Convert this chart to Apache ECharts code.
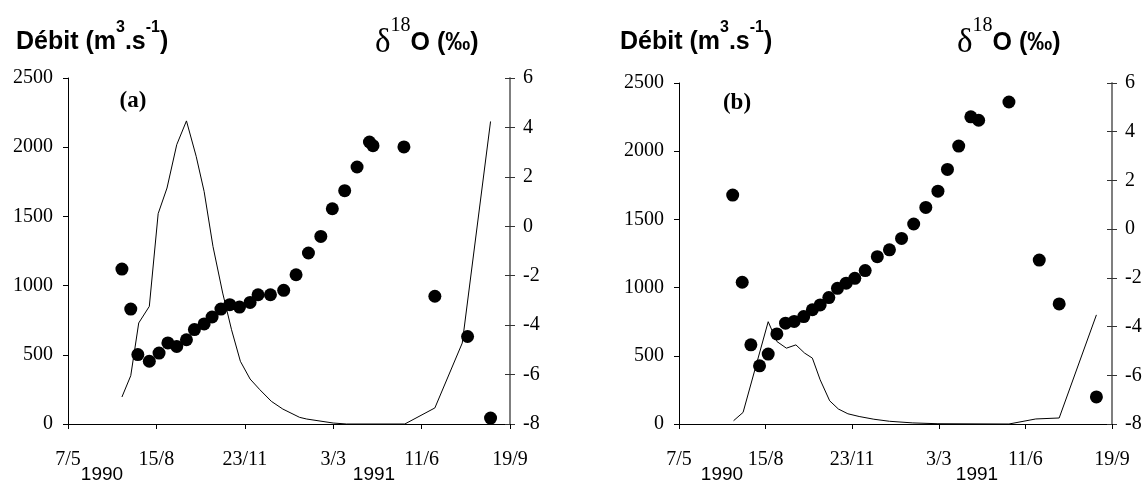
<!DOCTYPE html>
<html><head><meta charset="utf-8">
<script src="https://cdn.jsdelivr.net/npm/echarts@6/dist/echarts.min.js"></script>
<style>html,body{margin:0;padding:0;background:#fff}#c{width:1147px;height:483px}</style>
</head><body><div id="c"></div>
<script>
// ---- data ----
const startDate = '1990-05-07';
const xTickLabels = ['7/5', '15/8', '23/11', '3/3', '11/6', '19/9'];
const yearLabels = ['1990', '1991'];
const flowTicks = [0, 500, 1000, 1500, 2000, 2500];
const isoTicks = [-8, -6, -4, -2, 0, 2, 4, 6];

const aFlowDates = ['1990-07-07','1990-07-17','1990-07-26','1990-08-07','1990-08-17','1990-08-27','1990-09-07','1990-09-18','1990-09-29','1990-10-08','1990-10-18','1990-10-29','1990-11-08','1990-11-18','1990-11-29','1990-12-10','1990-12-23','1991-01-05','1991-01-24','1991-02-01','1991-03-03','1991-03-18','1991-05-23','1991-06-26','1991-07-27','1991-08-28'];
const aFlowValues = [195,349,730,850,1520,1705,2018,2190,1934,1680,1283,946,681,453,325,248,164,108,48,36,7,0,0,116,585,2186];

const aIsoDates = ['1990-07-07','1990-07-17','1990-07-25','1990-08-07','1990-08-18','1990-08-28','1990-09-07','1990-09-18','1990-09-27','1990-10-08','1990-10-17','1990-10-27','1990-11-06','1990-11-17','1990-11-29','1990-12-08','1990-12-22','1991-01-06','1991-01-20','1991-02-03','1991-02-17','1991-03-02','1991-03-16','1991-03-30','1991-04-13','1991-04-17','1991-05-22','1991-06-26','1991-08-02','1991-08-28'];
const aIsoValues = [-1.73,-3.35,-5.19,-5.46,-5.13,-4.72,-4.86,-4.59,-4.18,-3.95,-3.67,-3.35,-3.17,-3.27,-3.08,-2.77,-2.77,-2.59,-1.96,-1.08,-0.41,0.71,1.44,2.40,3.41,3.26,3.21,-2.83,-4.46,-7.76];

const bFlowDates = ['1990-07-09','1990-07-20','1990-08-18','1990-08-28','1990-09-08','1990-09-19','1990-09-29','1990-10-08','1990-10-17','1990-10-28','1990-11-07','1990-11-18','1990-12-01','1990-12-18','1991-01-05','1991-02-01','1991-03-02','1991-05-23','1991-06-23','1991-07-20','1991-09-01'];
const bFlowValues = [24,85,750,605,556,580,520,483,324,170,110,75,55,35,20,8,2,0,37,44,800];

const bIsoDates = ['1990-07-08','1990-07-19','1990-07-29','1990-08-08','1990-08-18','1990-08-28','1990-09-07','1990-09-17','1990-09-28','1990-10-08','1990-10-17','1990-10-27','1990-11-06','1990-11-16','1990-11-26','1990-12-08','1990-12-22','1991-01-05','1991-01-19','1991-02-02','1991-02-16','1991-03-02','1991-03-13','1991-03-26','1991-04-09','1991-04-18','1991-05-23','1991-06-27','1991-07-20','1991-09-01'];
const bIsoValues = [1.40,-2.18,-4.75,-5.61,-5.13,-4.30,-3.86,-3.79,-3.59,-3.31,-3.11,-2.81,-2.43,-2.22,-2.02,-1.70,-1.13,-0.85,-0.38,0.21,0.89,1.56,2.45,3.41,4.61,4.47,5.22,-1.27,-3.07,-6.89];

// ---- helpers ----
const DAY = 86400000;
const dayOf = s => (Date.parse(s) - Date.parse(startDate)) / DAY;
const pairs = (d, v) => d.map((s, i) => [dayOf(s), v[i]]);

const SERIF = '"Liberation Serif","Times New Roman",serif';
const SANS = '"Liberation Sans",Arial,sans-serif';
const TICK_FS = 20;

function xAxisFor(gi) {
  return {
    type: 'value', gridIndex: gi, min: 0, max: 500, interval: 100,
    axisLine: { show: true, onZero: false, lineStyle: { color: '#000', width: 1 } },
    axisTick: { show: true, inside: false, length: 5, lineStyle: { color: '#000' } },
    splitLine: { show: false },
    axisLabel: { margin: 26, color: '#000', fontFamily: SERIF, fontSize: TICK_FS,
      formatter: v => xTickLabels[Math.round(v / 100)] }
  };
}
function yAxesFor(gi) {
  return [
    { type: 'value', gridIndex: gi, position: 'left', min: flowTicks[0], max: flowTicks[flowTicks.length - 1], interval: 500,
      axisLine: { show: true, lineStyle: { color: '#000', width: 1 } },
      axisTick: { show: true, inside: false, length: 5, lineStyle: { color: '#000' } },
      splitLine: { show: false },
      axisLabel: { margin: 15, color: '#000', fontFamily: SERIF, fontSize: TICK_FS, formatter: v => String(v) } },
    { type: 'value', gridIndex: gi, position: 'right', min: isoTicks[0], max: isoTicks[isoTicks.length - 1], interval: 2,
      axisLine: { show: true, lineStyle: { color: '#777', width: 1.5 } },
      axisTick: { show: true, inside: false, length: 5, lineStyle: { color: '#333' } },
      splitLine: { show: false },
      axisLabel: { margin: 13, color: '#000', fontFamily: SERIF, fontSize: TICK_FS, formatter: v => String(v) } },
    { type: 'value', gridIndex: gi, position: 'right', min: isoTicks[0], max: isoTicks[isoTicks.length - 1], interval: 2,
      axisLine: { show: true, lineStyle: { color: '#777', width: 1.5 } },
      axisTick: { show: true, inside: true, length: 5, lineStyle: { color: '#333' } },
      splitLine: { show: false },
      axisLabel: { show: false } }
  ];
}

const titleRichDebit = {
  m: { fontFamily: SANS, fontWeight: 'bold', fontSize: 25, lineHeight: 45, color: '#000' },
  s: { fontFamily: SANS, fontWeight: 'bold', fontSize: 16, lineHeight: 16, verticalAlign: 'top', color: '#000' }
};
const titleRichIso = {
  d: { fontFamily: SERIF, fontSize: 33, lineHeight: 54, color: '#000' },
  t: { fontFamily: SERIF, fontSize: 20, lineHeight: 20, verticalAlign: 'top', color: '#000' },
  o: { fontFamily: SANS, fontWeight: 'bold', fontSize: 25, lineHeight: 54, color: '#000' }
};
function txt(x, y, text, style) {
  return { type: 'text', x: x, y: y, style: Object.assign({ text: text, fill: '#000' }, style) };
}

const option = {
  animation: false,
  backgroundColor: '#fff',
  grid: [
    { left: 68, right: 637, top: 78, bottom: 59 },
    { left: 679, right: 35, top: 83, bottom: 59 }
  ],
  xAxis: [xAxisFor(0), xAxisFor(1)],
  yAxis: yAxesFor(0).concat(yAxesFor(1)),
  series: [
    { type: 'line', xAxisIndex: 0, yAxisIndex: 0, data: pairs(aFlowDates, aFlowValues), showSymbol: false, symbol: 'none',
      lineStyle: { color: '#000', width: 1 }, z: 2 },
    { type: 'scatter', xAxisIndex: 0, yAxisIndex: 1, data: pairs(aIsoDates, aIsoValues), symbol: 'circle', symbolSize: 13,
      itemStyle: { color: '#000', opacity: 1 }, z: 3 },
    { type: 'line', xAxisIndex: 1, yAxisIndex: 3, data: pairs(bFlowDates, bFlowValues), showSymbol: false, symbol: 'none',
      lineStyle: { color: '#000', width: 1 }, z: 2 },
    { type: 'scatter', xAxisIndex: 1, yAxisIndex: 4, data: pairs(bIsoDates, bIsoValues), symbol: 'circle', symbolSize: 13,
      itemStyle: { color: '#000', opacity: 1 }, z: 3 }
  ],
  graphic: [
    txt(16, 20, '{m|Débit (m}{s|3}{m|.s}{s|-1}{m|)}', { rich: titleRichDebit }),
    txt(620, 20, '{m|Débit (m}{s|3}{m|.s}{s|-1}{m|)}', { rich: titleRichDebit }),
    txt(375, 16, '{d|δ}{t|18}{o|O (‰)}', { rich: titleRichIso }),
    txt(957, 16, '{d|δ}{t|18}{o|O (‰)}', { rich: titleRichIso }),
    txt(133, 101, '(a)', { font: 'bold 23px ' + SERIF, textAlign: 'center', textVerticalAlign: 'middle' }),
    txt(737, 103, '(b)', { font: 'bold 23px ' + SERIF, textAlign: 'center', textVerticalAlign: 'middle' }),
    txt(102, 475, yearLabels[0], { font: '19px ' + SANS, textAlign: 'center', textVerticalAlign: 'middle' }),
    txt(374, 475, yearLabels[1], { font: '19px ' + SANS, textAlign: 'center', textVerticalAlign: 'middle' }),
    txt(722, 475, yearLabels[0], { font: '19px ' + SANS, textAlign: 'center', textVerticalAlign: 'middle' }),
    txt(977, 475, yearLabels[1], { font: '19px ' + SANS, textAlign: 'center', textVerticalAlign: 'middle' })
  ]
};
echarts.init(document.getElementById('c'), null, { renderer: 'canvas' }).setOption(option);
</script></body></html>
